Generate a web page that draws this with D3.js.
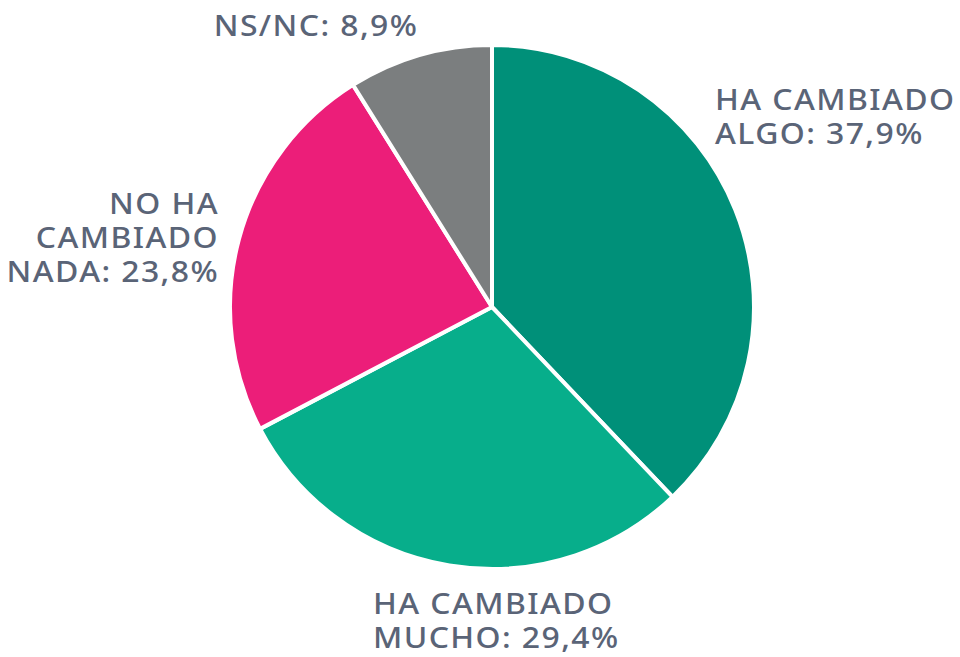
<!DOCTYPE html>
<html>
<head>
<meta charset="utf-8">
<script src="https://cdn.jsdelivr.net/npm/d3@7"></script>
<style>
  body { margin: 0; background: #fff; }
  text { font-family: "Noto Sans", sans-serif; font-weight: 500; fill: #5a6477; }
</style>
</head>
<body>
<div id="chart"></div>
<script>
// Data
const categories = ["HA CAMBIADO ALGO", "HA CAMBIADO MUCHO", "NO HA CAMBIADO NADA", "NS/NC"];
const values = [37.9, 29.4, 23.8, 8.9];
const colors = ["#009079", "#07ae8b", "#ec1e79", "#7b7e7f"];
const labelLines = [
  ["HA CAMBIADO", "ALGO: 37,9%"],
  ["HA CAMBIADO", "MUCHO: 29,4%"],
  ["NO HA", "CAMBIADO", "NADA: 23,8%"],
  ["NS/NC: 8,9%"]
];

const width = 960, height = 657;
const cx = 492, cy = 307, radius = 262;

const svg = d3.select("#chart")
  .append("svg")
  .attr("width", width)
  .attr("height", height);

const g = svg.append("g")
  .attr("transform", "translate(" + cx + "," + cy + ")");

const pie = d3.pie().sort(null).value(d => d);
const arc = d3.arc().innerRadius(0).outerRadius(radius);

g.selectAll("path")
  .data(pie(values))
  .enter()
  .append("path")
  .attr("d", arc)
  .attr("fill", (d, i) => colors[i])
  .attr("stroke", "#fff")
  .attr("stroke-width", 4)
  .attr("stroke-linejoin", "round");

// Label placement (layout only)
const labelPos = [
  { x: 715, y: 110, anchor: "start" },
  { x: 373, y: 614, anchor: "start" },
  { x: 219, y: 214, anchor: "end" },
  { x: 316, y: 36, anchor: "middle" }
];
const lineGap = 34;

// the original font is a wide geometric sans: widen glyphs a little
categories.forEach((c, i) => {
  const p = labelPos[i];
  labelLines[i].forEach((line, j) => {
    svg.append("text")
      .attr("transform", "translate(" + p.x + "," + (p.y + j * lineGap) + ") scale(1.1,1)")
      .attr("text-anchor", p.anchor)
      .style("font-size", "29px")
      .style("letter-spacing", "1.3px")
      .text(line);
  });
});
</script>
</body>
</html>
